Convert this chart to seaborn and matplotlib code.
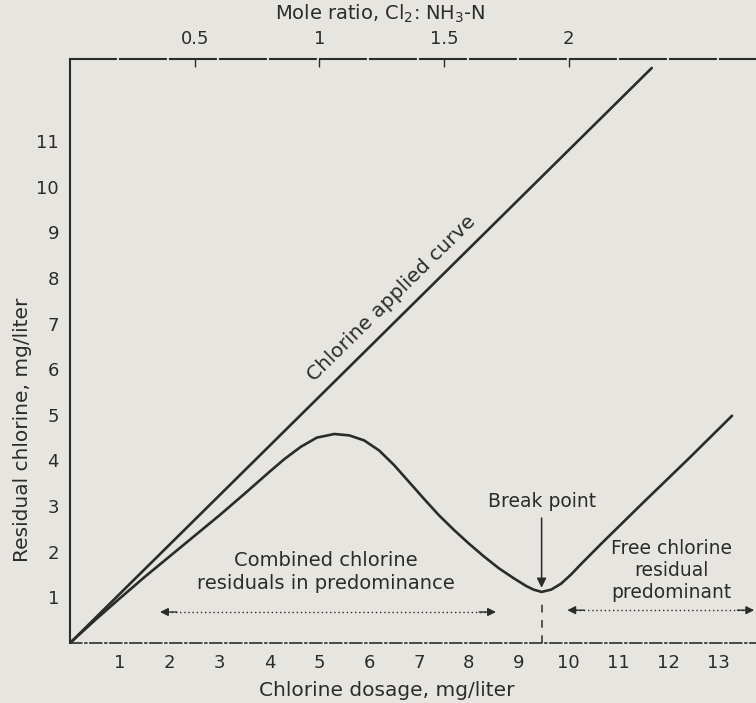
import matplotlib.pyplot as plt
import seaborn as sns
import pandas as pd

# ---- data ----
dosage_applied = [0, 11.67]
cl_applied = [0, 12.6]

dosage_resid = [0, 0.5, 1.0, 1.5, 2.0, 2.5, 3.0, 3.5, 4.0, 4.3, 4.63, 4.95, 5.3, 5.6,
                5.9, 6.2, 6.5, 6.8, 7.1, 7.4, 7.7, 8.0, 8.3, 8.6, 8.9, 9.15, 9.3, 9.46,
                9.65, 9.85, 10.05, 10.26, 10.66, 11.5, 12.4, 13.28]
cl_resid = [0, 0.5, 0.98, 1.45, 1.9, 2.35, 2.8, 3.27, 3.75, 4.03, 4.3, 4.5, 4.58, 4.55,
            4.44, 4.22, 3.9, 3.53, 3.16, 2.8, 2.48, 2.18, 1.9, 1.64, 1.42, 1.25, 1.17, 1.12,
            1.17, 1.3, 1.5, 1.74, 2.18, 3.08, 4.03, 4.98]

break_point = (9.46, 1.12)
x_ticks = list(range(1, 14))
y_ticks = list(range(1, 12))
mole_ticks = [0.5, 1, 1.5, 2]
mole_labels = ["0.5", "1", "1.5", "2"]
mg_per_mole_ratio = 5.0

paper = "#e7e5e0"
ink = "#2b2b2b"

sns.set_theme(style="white")
plt.rcParams['font.family'] = ['DejaVu Sans']
plt.rcParams['mathtext.default'] = 'regular'
plt.rcParams['text.color'] = ink

fig = plt.figure(figsize=(7.56, 7.03), dpi=100, facecolor=paper)
ax = fig.add_axes([0.0926, 0.0853, 0.91, 0.831], facecolor=paper)

df_app = pd.DataFrame({"dosage": dosage_applied, "residual": cl_applied})
df_res = pd.DataFrame({"dosage": dosage_resid, "residual": cl_resid})
sns.lineplot(data=df_app, x="dosage", y="residual", ax=ax, color=ink, lw=1.9, sort=False)
sns.lineplot(data=df_res, x="dosage", y="residual", ax=ax, color=ink, lw=1.9, sort=False)

ax.set_xlim(0, 13.8)
ax.set_ylim(0, 12.8)
ax.set_xticks(x_ticks)
ax.set_yticks(y_ticks)
ax.tick_params(direction="in", length=6, width=1, colors=ink, labelsize=13, pad=8)
ax.set_xlabel("Chlorine dosage, mg/liter", fontsize=14.5, color=ink, labelpad=6)
ax.set_ylabel("Residual chlorine, mg/liter", fontsize=14.5, color=ink)
ax.yaxis.set_label_coords(-0.055, 0.365)
ax.xaxis.set_label_coords(0.46, -0.065)

for side in ["left", "bottom", "top"]:
    ax.spines[side].set_color(ink)
ax.spines["left"].set_linewidth(1.5)
ax.spines["bottom"].set_linewidth(1.2)
ax.spines["bottom"].set_linestyle((0, (7, 2, 1, 2)))
ax.spines["top"].set_linewidth(1.5)
ax.spines["top"].set_linestyle((0, (22, 2)))
ax.spines["right"].set_visible(False)

# top axis: mole ratio
top = ax.secondary_xaxis("top", functions=(lambda x: x / mg_per_mole_ratio,
                                           lambda r: r * mg_per_mole_ratio))
top.set_xticks(mole_ticks)
top.set_xticklabels(mole_labels)
top.tick_params(direction="in", length=6, width=1, colors=ink, labelsize=13, pad=8)
top.spines["top"].set_visible(False)
fig.text(380 / 756, 1 - 14 / 703, "Mole ratio, Cl$_2$: NH$_3$-N", fontsize=14,
         color=ink, ha="center", va="center")

# curve label
ax.text(6.45, 7.55, "Chlorine applied curve", rotation=44.5, rotation_mode="anchor",
        ha="center", va="center", fontsize=14.5, color=ink)

# break point
bx, by = break_point
ax.text(bx, 3.1, "Break point", ha="center", va="center", fontsize=13.5, color=ink)
ax.annotate("", xy=(bx, by + 0.03), xytext=(bx, 2.8),
            arrowprops=dict(arrowstyle="-|>", color=ink, lw=1.1, mutation_scale=14))
ax.plot([bx, bx], [0, 0.85], color=ink, lw=1.1, ls=(0, (5, 5)))

# region labels and dotted double arrows
ax.text(5.13, 1.55, "Combined chlorine\nresiduals in predominance", ha="center",
        va="center", fontsize=14, color=ink, linespacing=1.25)
ax.text(12.07, 1.58, "Free chlorine\nresidual\npredominant", ha="center",
        va="center", fontsize=13.5, color=ink, linespacing=1.2)


def dotted_arrow(x0, x1, y):
    ax.plot([x0 + 0.2, x1 - 0.2], [y, y], color=ink, lw=1.0, ls=(0, (1, 2)))
    ax.annotate("", xy=(x0, y), xytext=(x0 + 0.45, y),
                arrowprops=dict(arrowstyle="-|>", color=ink, lw=1.0, mutation_scale=12))
    ax.annotate("", xy=(x1, y), xytext=(x1 - 0.45, y),
                arrowprops=dict(arrowstyle="-|>", color=ink, lw=1.0, mutation_scale=12))


dotted_arrow(1.75, 8.6, 0.68)
dotted_arrow(9.92, 13.78, 0.72)

fig.savefig("out.png", dpi=100, facecolor=paper)
